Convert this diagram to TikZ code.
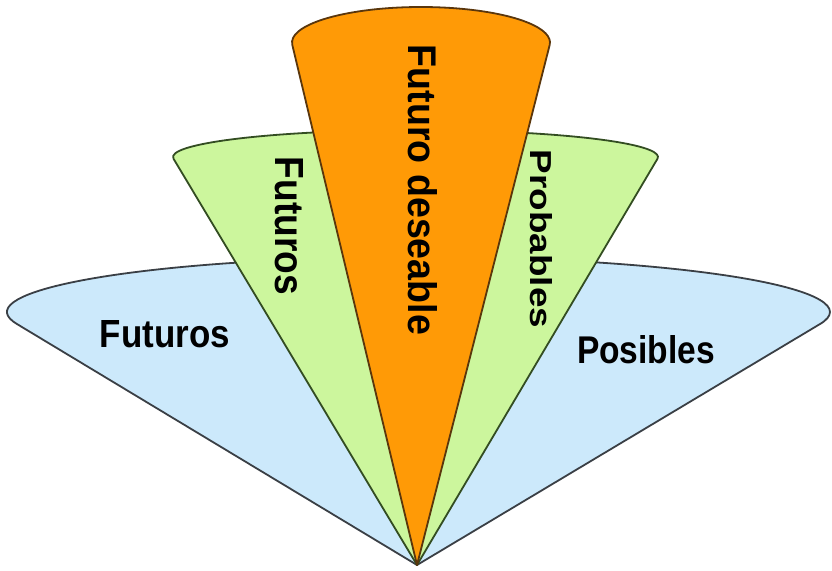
\documentclass[tikz,border=0pt]{standalone}
\usepackage{fontspec}
\setmainfont{Liberation Sans}
\usepackage{graphicx}
\usetikzlibrary{calc}
\definecolor{bluefill}{HTML}{CCE9FB}
\definecolor{blueline}{HTML}{3A3F45}
\definecolor{greenfill}{HTML}{CCF69D}
\definecolor{greenline}{HTML}{334D22}
\definecolor{orangefill}{HTML}{FF9A06}
\definecolor{orangeline}{HTML}{5A360C}
\begin{document}
\begin{tikzpicture}[x=1pt,y=1pt,
  cone/.style={line width=1.8pt, line join=round},
  lbl/.style={inner sep=0pt, anchor=base, font=\bfseries, text=black}]
\useasboundingbox[fill=white] (0,0) rectangle (832,-570);
\coordinate (apex) at (417,-565);
\coordinate (bc) at (418.5,-312);
\coordinate (gc) at (415.5,-157);
\coordinate (oc) at (421,-42.5);
% blue cone
\draw[cone, draw=blueline, fill=bluefill] (apex) -- ($(bc)+(192.6:411.5 and 55)$)
  arc[start angle=192.6, end angle=-12.6, x radius=411.5, y radius=55] -- cycle;
% green cone
\draw[cone, draw=greenline, fill=greenfill] (apex) -- ($(gc)+(183.8:242.5 and 27)$)
  arc[start angle=183.8, end angle=-3.8, x radius=242.5, y radius=27] -- cycle;
% orange cone
\draw[cone, draw=orangeline, fill=orangefill] (apex) -- ($(oc)+(183.9:129 and 35.5)$)
  arc[start angle=183.9, end angle=-3.9, x radius=129, y radius=35.5] -- cycle;
% labels
\node[lbl] (t1) at (165,-347) {\resizebox{130pt}{27pt}{Futuros}};
\node[lbl] (t2) at (646,-363) {\resizebox{138pt}{28pt}{Posibles}};
\node[lbl, rotate=-90] (t3) at (275,-226) {\resizebox{138pt}{28pt}{Futuros}};
\node[lbl, rotate=-90] (t4) at (408,-190) {\resizebox{290pt}{29pt}{Futuro deseable}};
\node[lbl, rotate=-90] (t5) at (530,-239) {\resizebox{178pt}{22pt}{Probables}};
\end{tikzpicture}
\end{document}
